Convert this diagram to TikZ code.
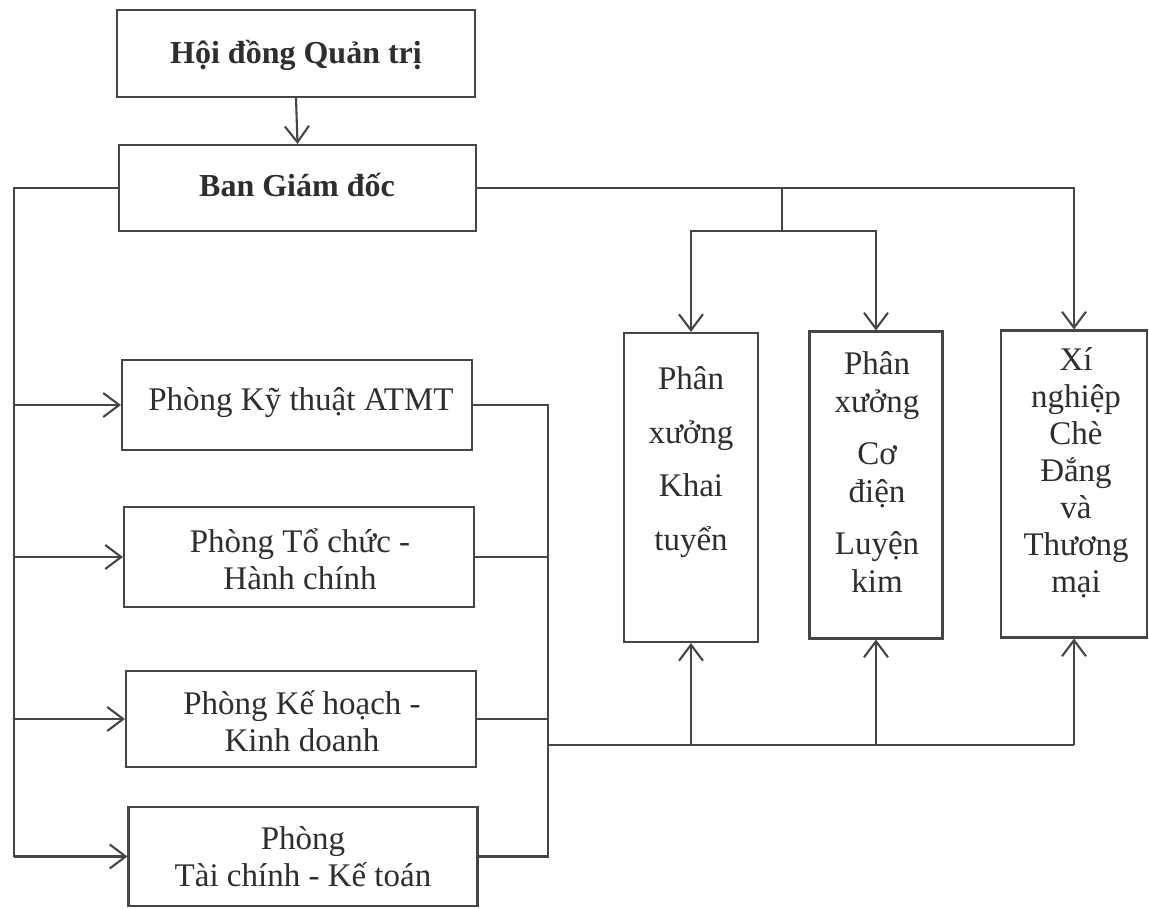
\documentclass[tikz,border=0pt]{standalone}
\usepackage{fontspec}
\setmainfont{Liberation Serif}
\usetikzlibrary{arrows.meta}
\definecolor{ln}{HTML}{454545}
\definecolor{tx}{HTML}{2E2E2E}
\tikzset{
  box/.style={draw=ln, line width=2.1pt, rectangle, inner sep=0pt},
  lbl/.style={text=tx, align=center, inner sep=0pt, font=\fontsize{33}{38}\selectfont},
  blbl/.style={lbl, font=\fontsize{32}{38}\selectfont\bfseries},
  conn/.style={draw=ln, line width=2.1pt},
  arr/.style={conn, -{Straight Barb[length=16pt,width=24pt,line width=2.1pt]}},
}
\begin{document}
\begin{tikzpicture}[x=1pt,y=-1pt]
\useasboundingbox (0,0) rectangle (1149,909);
\fill[white] (0,0) rectangle (1149,909);

% boxes
\node[box, minimum width=358pt, minimum height=87pt] (hdqt) at (296,53.5) {};
\node[box, minimum width=357pt, minimum height=86pt] (ban) at (297.5,188) {};
\node[box, minimum width=350pt, minimum height=90pt] (kt) at (297,405) {};
\node[box, minimum width=350pt, minimum height=100pt] (tcc) at (299,557) {};
\node[box, minimum width=350pt, minimum height=96pt] (kh) at (301,719) {};
\node[box, minimum width=349pt, minimum height=99pt] (tck) at (303,856.5) {};
\node[box, minimum width=134pt, minimum height=309pt] (khai) at (691,487.5) {};
\node[box, minimum width=133pt, minimum height=307pt] (co) at (876,485) {};
\node[box, minimum width=146pt, minimum height=307pt] (xi) at (1074,484) {};

% labels
\node[blbl] (hdqt-t) at (296,55) {Hội đồng Quản trị};
\node[blbl] (ban-t) at (297,185) {Ban Giám đốc};
\node[lbl] (kt-t) at (301,403) {Phòng Kỹ thuật ATMT};
\node[lbl, font=\fontsize{33}{37}\selectfont] (tcc-t) at (300,559) {Phòng Tổ chức -\\Hành chính};
\node[lbl, font=\fontsize{33}{37}\selectfont] (kh-t) at (302,721) {Phòng Kế hoạch -\\Kinh doanh};
\node[lbl, font=\fontsize{33}{37}\selectfont] (tck-t) at (303,857) {Phòng\\Tài chính - Kế toán};
\node[lbl, font=\fontsize{33}{53.5}\selectfont] (khai-t) at (691,462) {Phân\\xưởng\\Khai\\tuyển};
\node[lbl, font=\fontsize{33}{38}\selectfont] (co-t) at (877,472) {Phân\\xưởng\\[14pt]Cơ\\điện\\[14pt]Luyện\\kim};
\node[lbl, font=\fontsize{33}{37}\selectfont] (xi-t) at (1076,473) {Xí\\nghiệp\\Chè\\Đắng\\và\\Thương\\mại};

% coordinates
\coordinate (L) at (14,0);
\coordinate (bus) at (548,0);
\coordinate (B) at (548,745);
\coordinate (J) at (782,0);
\coordinate (H) at (0,231);

% top arrow
\draw[arr] (hdqt.south) -- (ban.north);

% left distribution
\draw[conn] (ban.west) -| (L |- tck.west);
\draw[arr] (L |- kt.west) -- (kt.west);
\draw[arr] (L |- tcc.west) -- (tcc.west);
\draw[arr] (L |- kh.west) -- (kh.west);
\draw[arr] (L |- tck.west) -- (tck.west);

% right bus
\draw[conn] (kt.east) -| (bus |- tck.east) -- (tck.east);
\draw[conn] (tcc.east) -- (tcc.east -| bus);
\draw[conn] (kh.east) -- (kh.east -| bus);

% bottom line up to workshops
\draw[conn] (B) -- (B -| xi.south);
\draw[arr] (B -| khai.south) -- (khai.south);
\draw[arr] (B -| co.south) -- (co.south);
\draw[arr] (B -| xi.south) -- (xi.south);

% top right distribution
\draw[arr] (ban.east) -- (ban.east -| xi.north) -- (xi.north);
\draw[conn] (J |- ban.east) -- (J |- H);
\draw[arr] (J |- H) -| (khai.north);
\draw[arr] (J |- H) -| (co.north);
\end{tikzpicture}
\end{document}
